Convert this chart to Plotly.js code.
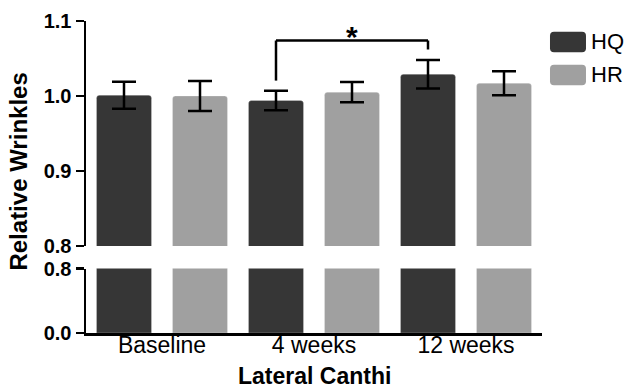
<!DOCTYPE html>
<html>
<head>
<meta charset="utf-8">
<script src="https://cdn.plot.ly/plotly-3.0.1.min.js"></script>
<style>html,body{margin:0;padding:0;background:#fff;}</style>
</head>
<body>
<div id="chart" style="width:627px;height:388px;"></div>
<script>
// ---- data ----
const categories = ['Baseline', '4 weeks', '12 weeks'];
const seriesNames = ['HQ', 'HR'];
const hqValues = [1.001, 0.994, 1.029];
const hqErrors = [0.018, 0.013, 0.019];
const hrValues = [1.000, 1.005, 1.017];
const hrErrors = [0.020, 0.0135, 0.016];
const lowerTicks = [0.0, 0.8];
const upperTicks = [0.8, 0.9, 1.0, 1.1];
const sigPair = [1, 2]; // HQ at 4 weeks vs HQ at 12 weeks

// ---- styles ----
const DARK = '#363636', LIGHT = '#a0a0a0';
const FONT = 'Liberation Sans, Arial, Helvetica, sans-serif';
const offHQ = -0.25, offHR = 0.25;

function barTrace(name, vals, errs, color, yax, showErr) {
  const t = {
    type: 'bar', name: name, x: categories, y: vals, yaxis: yax, xaxis: 'x',
    marker: {color: color, cornerradius: 3, line: {color: 'rgba(255,255,255,0.25)', width: 1}},
    showlegend: false, hoverinfo: 'skip'
  };
  if (showErr) {
    t.error_y = {type: 'data', array: errs, visible: true, color: '#000', thickness: 2.5, width: 12};
  }
  return t;
}

const traces = [
  barTrace('HQ', hqValues, hqErrors, DARK, 'y', false),
  barTrace('HR', hrValues, hrErrors, LIGHT, 'y', false),
  barTrace('HQ', hqValues, hqErrors, DARK, 'y2', true),
  barTrace('HR', hrValues, hrErrors, LIGHT, 'y2', true)
];

// significance bracket derived from data
const xa = sigPair[0] + offHQ, xb = sigPair[1] + offHQ;
const topA = hqValues[sigPair[0]] + hqErrors[sigPair[0]];
const topB = hqValues[sigPair[1]] + hqErrors[sigPair[1]];
const legA = topA + 0.0135, legB = topB + 0.014;
const bracketY = Math.max(legA, legB) + 0.012;
const lineStyle = {color: '#000', width: 2.5};

const shapes = [
  {type: 'line', xref: 'x', yref: 'y2', x0: xa, x1: xa, y0: legA, y1: bracketY, line: lineStyle},
  {type: 'line', xref: 'x', yref: 'y2', x0: xa, x1: xb, y0: bracketY, y1: bracketY, line: lineStyle},
  {type: 'line', xref: 'x', yref: 'y2', x0: xb, x1: xb, y0: legB, y1: bracketY, line: lineStyle}
];

// custom legend swatches (rounded rectangles)
function roundRect(w, h, r) {
  const x0 = -w/2, x1 = w/2, y0 = -h/2, y1 = h/2;
  return `M${x0+r},${y0} L${x1-r},${y0} Q${x1},${y0} ${x1},${y0+r} L${x1},${y1-r} Q${x1},${y1} ${x1-r},${y1} L${x0+r},${y1} Q${x0},${y1} ${x0},${y1-r} L${x0},${y0+r} Q${x0},${y0} ${x0+r},${y0} Z`;
}
const legendColors = [DARK, LIGHT];
const legendY = [0.933, 0.827];
legendColors.forEach((c, i) => {
  shapes.push({type: 'path', xref: 'paper', yref: 'paper', xsizemode: 'pixel', ysizemode: 'pixel',
    xanchor: 1.0570, yanchor: legendY[i], path: roundRect(36, 20.5, 4),
    fillcolor: c, line: {width: 0}});
});

const annotations = [
  {xref: 'x', yref: 'y2', x: (xa + xb) / 2, y: bracketY, text: '*', showarrow: false,
   xanchor: 'center', yanchor: 'bottom', yshift: -14, font: {family: FONT, size: 30, color: '#000', weight: 'bold'}},
  {xref: 'paper', yref: 'paper', x: -0.149, y: 0.5176, text: '<b>Relative Wrinkles</b>', textangle: -90,
   showarrow: false, xanchor: 'center', yanchor: 'middle', font: {family: FONT, size: 24, color: '#000'}},
  {xref: 'paper', yref: 'paper', x: 0.5, y: -0.138, text: '<b>Lateral Canthi</b>', showarrow: false,
   xanchor: 'center', yanchor: 'middle', borderpad: 0, font: {family: FONT, size: 23, color: '#000'}}
];
seriesNames.forEach((n, i) => {
  annotations.push({xref: 'paper', yref: 'paper', x: 1.103, y: legendY[i], text: n, showarrow: false,
    xanchor: 'left', yanchor: 'middle', font: {family: FONT, size: 22, color: '#000'}});
});

const axisCommon = {
  showgrid: false, zeroline: false, showline: true, linecolor: '#000', linewidth: 2.5,
  ticks: 'outside', ticklen: 8, tickwidth: 2.5, tickcolor: '#000',
  tickfont: {family: FONT, size: 20, color: '#000', weight: 'bold'}, fixedrange: true
};

const layout = {
  width: 627, height: 388,
  margin: {l: 86, r: 85, t: 21, b: 55, pad: 0},
  paper_bgcolor: '#fff', plot_bgcolor: '#fff',
  barmode: 'group', bargap: 0, bargroupgap: 0.276,
  showlegend: false,
  xaxis: {
    type: 'category', range: [-0.5, 2.5], anchor: 'y', showline: true, linecolor: '#000', linewidth: 2.5,
    ticks: '', showgrid: false, zeroline: false, fixedrange: true, ticklabelstandoff: -10,
    tickfont: {family: FONT, size: 23, color: '#000'}
  },
  yaxis: Object.assign({}, axisCommon, {domain: [0, 0.2064], range: [0, 0.8], tickvals: lowerTicks,
    ticktext: lowerTicks.map(v => v.toFixed(1)), anchor: 'x'}),
  yaxis2: Object.assign({}, axisCommon, {domain: [0.279, 1], range: [0.8, 1.1], tickvals: upperTicks,
    ticktext: upperTicks.map(v => v.toFixed(1)), anchor: 'x'}),
  shapes: shapes,
  annotations: annotations
};

Plotly.newPlot('chart', traces, layout, {displayModeBar: false, staticPlot: true});
</script>
</body>
</html>
